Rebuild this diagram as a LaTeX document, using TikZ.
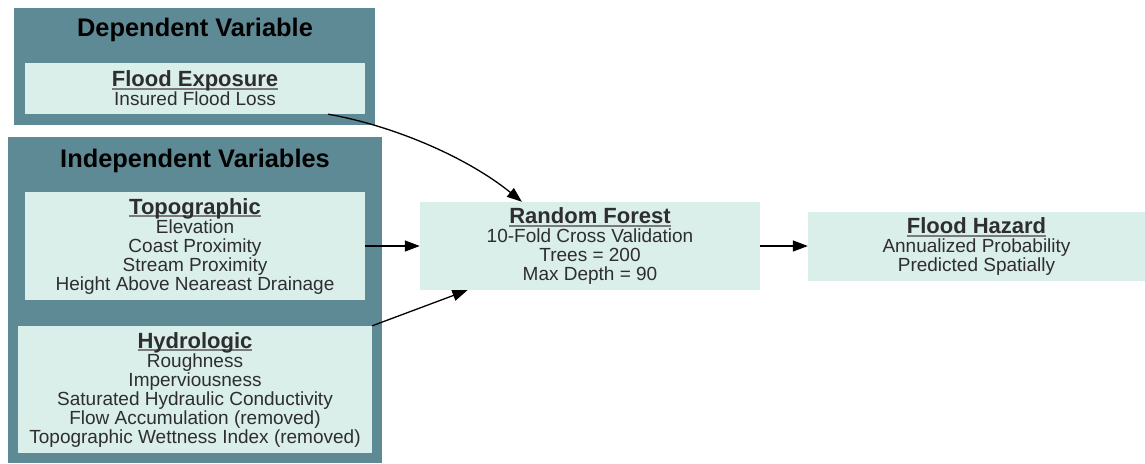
\documentclass[tikz,border=0pt]{standalone}
\usepackage{fontspec}
\setmainfont{Liberation Sans}
\usetikzlibrary{arrows.meta,calc}

\definecolor{clusterfill}{HTML}{5E8A95}
\definecolor{boxfill}{HTML}{DAEEEA}
\definecolor{bodytext}{HTML}{2E2E2E}
\definecolor{rulegray}{HTML}{7A7A7A}

% bold heading with a grey underline
\newcommand\boxhead[1]{{\fontsize{22}{19}\selectfont\bfseries
  \setbox0\hbox{#1}\rlap{\color{rulegray}\rule[-3.2pt]{\wd0}{1.8pt}}\box0}}

\tikzset{
  cluster/.style={fill=clusterfill, draw=none, inner sep=0pt},
  clustertitle/.style={font=\fontsize{25.4}{26}\selectfont\bfseries, text=black, inner sep=0pt, anchor=base},
  infobox/.style={fill=boxfill, draw=none, inner sep=0pt, align=center, text=bodytext,
    font=\fontsize{19}{19}\selectfont},
  flow/.style={line width=1.3pt, draw=black, -{Triangle[length=15pt,width=11pt]}},
}

\begin{document}
\begin{tikzpicture}[x=1pt,y=-1pt]
\useasboundingbox (0,0) rectangle (1145,463);

% variable groups
\node[cluster, minimum width=361pt, minimum height=117pt] (dep) at (194.5,66.5) {};
\node[clustertitle] (deptitle) at (195,36) {Dependent Variable};
\node[cluster, minimum width=374pt, minimum height=326pt] (ind) at (195,300) {};
\node[clustertitle] (indtitle) at (195,167) {Independent Variables};

% inputs
\node[infobox, minimum width=340pt, minimum height=51pt] (fe) at (195,88.5)
  {\boxhead{Flood Exposure}\\Insured Flood Loss};
\node[infobox, minimum width=340pt, minimum height=108pt] (topo) at (195,246)
  {\boxhead{Topographic}\\Elevation\\Coast Proximity\\Stream Proximity\\Height Above Neareast Drainage};
\node[infobox, minimum width=354pt, minimum height=127pt] (hydro) at (195,389.5)
  {\boxhead{Hydrologic}\\Roughness\\Imperviousness\\Saturated Hydraulic Conductivity\\Flow Accumulation (removed)\\Topographic Wettness Index (removed)};

% model and output
\node[infobox, minimum width=340pt, minimum height=88pt] (rf) at (590,246)
  {\boxhead{Random Forest}\\10-Fold Cross Validation\\Trees = 200\\Max Depth = 90};
\node[infobox, minimum width=337pt, minimum height=69pt] (fh) at (976.5,246.5)
  {\boxhead{Flood Hazard}\\Annualized Probability\\Predicted Spatially};

% connectors
\coordinate (feout) at ($(fe.south west)!0.891!(fe.south east)$);
\coordinate (rfin) at ($(rf.north west)!0.3!(rf.north east)$);
\draw[flow] (feout) .. controls (395,126) and (468,158) .. (rfin);
\draw[flow] (topo.east) -- (rf.west);
\coordinate (rfin2) at ($(rf.south west)!0.14!(rf.south east)$);
\draw[flow] (hydro.north east) -- (rfin2);
\draw[flow] (rf.east) -- (rf.east -| fh.west);
\end{tikzpicture}
\end{document}
